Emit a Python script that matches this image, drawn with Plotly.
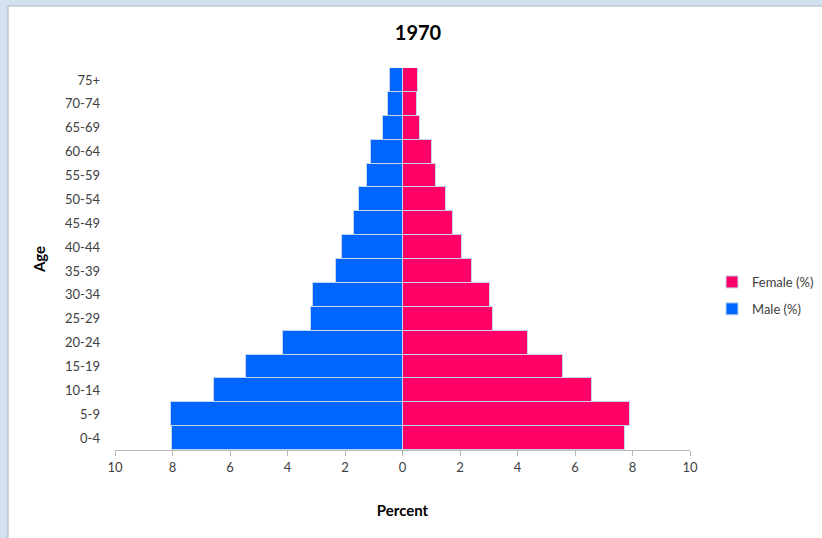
import plotly.graph_objects as go

age_groups = ["0-4", "5-9", "10-14", "15-19", "20-24", "25-29", "30-34", "35-39",
              "40-44", "45-49", "50-54", "55-59", "60-64", "65-69", "70-74", "75+"]
male_pct = [8.03, 8.05, 6.57, 5.43, 4.17, 3.2, 3.1, 2.33, 2.09, 1.7, 1.53, 1.25, 1.08, 0.69, 0.49, 0.45]
female_pct = [7.75, 7.9, 6.6, 5.58, 4.36, 3.14, 3.03, 2.41, 2.07, 1.75, 1.52, 1.17, 1.02, 0.62, 0.5, 0.53]
tick_vals = [-10, -8, -6, -4, -2, 0, 2, 4, 6, 8, 10]
tick_text = ["10", "8", "6", "4", "2", "0", "2", "4", "6", "8", "10"]

FONT = "Lato, 'Liberation Sans', sans-serif"

fig = go.Figure()
fig.add_trace(go.Bar(
    y=age_groups, x=[-v for v in male_pct], orientation="h", name="Male (%)",
    legendgroup="m", legendrank=2,
    marker=dict(color="#0066ff", line=dict(color="#c5d5ee", width=1)),
))
fig.add_trace(go.Bar(
    y=age_groups, x=female_pct, orientation="h", name="Female (%)",
    legendgroup="f", legendrank=1,
    marker=dict(color="#ff0066", line=dict(color="#c5d5ee", width=1)),
))

L, R, T, B = 115, 690, 68, 450
W, H = 822, 538

def px_x(p):
    return (p - L) / (R - L)

def px_y(p):
    return (B - p) / (B - T)

fig.add_shape(type="rect", xref="paper", yref="paper",
              x0=px_x(8), x1=px_x(830), y0=px_y(6), y1=px_y(545),
              fillcolor="white", line=dict(color="#a9b4c2", width=1), layer="below")

fig.update_layout(
    width=W, height=H,
    margin=dict(l=L, r=W - R, t=T, b=H - B, autoexpand=False),
    paper_bgcolor="#d3e0ef",
    plot_bgcolor="rgba(0,0,0,0)",
    barmode="relative",
    bargap=0,
    font=dict(family=FONT, size=13, color="#404040"),
    title=dict(text="<b>1970</b>", x=px_x(418), xref="paper", y=1 - 33 / H, yanchor="middle",
               font=dict(family=FONT, size=20, color="black"), automargin=False),
    xaxis=dict(
        range=[-10, 10], tickvals=tick_vals, ticktext=tick_text,
        showgrid=False, zeroline=True, zerolinecolor="#b8b8b8", zerolinewidth=1,
        showline=True, linecolor="#b8b8b8", linewidth=1,
        ticks="outside", ticklen=5, tickcolor="#b8b8b8",
        tickfont=dict(size=13, color="#404040"),
        title=dict(text="<b>Percent</b>", font=dict(size=15, color="black"), standoff=31),
        fixedrange=True, automargin=False,
    ),
    yaxis=dict(
        range=[-0.5, 15.5], showgrid=False, zeroline=False, showline=False,
        ticks="", ticklabelstandoff=14,
        tickfont=dict(size=13, color="#404040"),
        title=dict(text="<b>Age</b>", font=dict(size=15, color="black"), standoff=15),
        fixedrange=True, automargin=False,
    ),
    legend=dict(x=px_x(712), y=px_y(267), xanchor="left", yanchor="top",
                traceorder="grouped", bgcolor="rgba(0,0,0,0)",
                font=dict(size=13, color="#404040"), itemwidth=30,
                tracegroupgap=7),
    showlegend=True,
)

fig.write_html("out.html", post_script="document.body.style.margin='0';",
               config={"displayModeBar": False})
